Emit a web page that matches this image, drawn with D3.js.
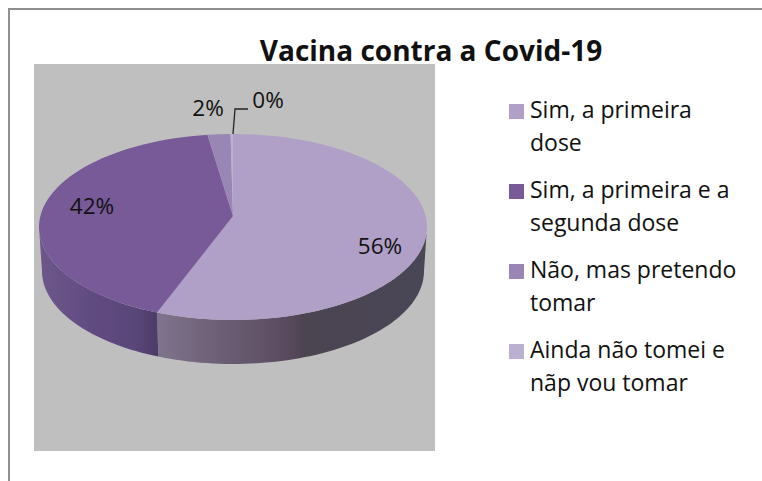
<!DOCTYPE html>
<html>
<head>
<meta charset="utf-8">
<script src="https://cdn.jsdelivr.net/npm/d3@7"></script>
<style>
  html, body { margin: 0; padding: 0; background: #fff; }
  svg { display: block; }
  text { font-family: "Open Sans", "Noto Sans", sans-serif; fill: #111; }
</style>
</head>
<body>
<div id="chart"></div>
<script>
const title = 'Vacina contra a Covid-19';
// valores (rótulos arredondados: 56, 42, 2, 0)
const values = [56.4, 41.5, 1.9, 0.2];
const colors = ['#b09fc6', '#785a98', '#9a86b5', '#bcb0d0'];
const legendLines = [
    ['Sim, a primeira', 'dose'],
    ['Sim, a primeira e a', 'segunda dose'],
    ['Não, mas pretendo', 'tomar'],
    ['Ainda não tomei e', 'nãp vou tomar']
];

const width = 762, height = 481;
const plot = { x: 34, y: 64, w: 401, h: 387 };
const top3d = { cx: 233, cy: 227, rx: 194, ry: 93, apexY: 216 };
const bottom3d = { cx: 233, cy: 271, rx: 191, ry: 93 };

const svg = d3.select('#chart').append('svg')
    .attr('width', width)
    .attr('height', height);

// moldura: só topo e esquerda
svg.append('path')
    .attr('d', `M9,${height}V9H${width}`)
    .attr('fill', 'none')
    .attr('stroke', '#8f8f8f')
    .attr('stroke-width', 2);

svg.append('rect')
    .attr('x', plot.x).attr('y', plot.y)
    .attr('width', plot.w).attr('height', plot.h)
    .attr('fill', '#bfbfbf');

svg.append('text')
    .attr('x', 431)
    .attr('y', 61)
    .attr('text-anchor', 'middle')
    .style('font-size', '28px')
    .style('font-weight', 'bold')
    .text(title);

const defs = svg.append('defs');
function addGradient(id, stops) {
    const g = defs.append('linearGradient')
        .attr('id', id)
        .attr('gradientUnits', 'userSpaceOnUse')
        .attr('x1', 0).attr('x2', width).attr('y1', 0).attr('y2', 0);
    stops.forEach(s => g.append('stop')
        .attr('offset', s[0] / width)
        .attr('stop-color', s[1]));
}
addGradient('wall0', [[155, '#80758f'], [205, '#70637a'], [285, '#5b4b60'], [305, '#4b4451'], [425, '#4a4656']]);
addGradient('wall1', [[40, '#6d5689'], [100, '#5f4a80'], [140, '#594577'], [155, '#4d3d68']]);

// imagem original é levemente desfocada
defs.append('filter').attr('id', 'soft')
    .append('feGaussianBlur').attr('stdDeviation', 0.6);

const pie = d3.pie().sort(null).value(d => d);
const arcs = pie(values);

const pointOn = (e, a) => [e.cx + e.rx * Math.sin(a), e.cy - e.ry * Math.cos(a)];
const sample = (a0, a1) => d3.range(0, 61).map(i => a0 + (a1 - a0) * i / 60);
const line = d3.line();

const pieGroup = svg.append('g').attr('filter', 'url(#soft)');

// parede lateral (só a metade da frente é visível)
const frontStart = Math.PI / 2, frontEnd = Math.PI * 1.5;
arcs.forEach((d, i) => {
    const a0 = Math.max(d.startAngle, frontStart);
    const a1 = Math.min(d.endAngle, frontEnd);
    if (a1 <= a0) return;
    const angles = sample(a0, a1);
    const pts = angles.map(a => pointOn(top3d, a))
        .concat(angles.slice().reverse().map(a => pointOn(bottom3d, a)));
    pieGroup.append('path')
        .attr('d', line(pts) + 'Z')
        .attr('fill', `url(#wall${i})`);
});

// fatias do topo
pieGroup.append('g').selectAll('path')
    .data(arcs)
    .enter()
    .append('path')
    .attr('d', d => line([[top3d.cx, top3d.apexY]]
        .concat(sample(d.startAngle, d.endAngle).map(a => pointOn(top3d, a)))) + 'Z')
    .attr('fill', (d, i) => colors[i]);

// linha de chamada do 0%
svg.append('path')
    .attr('d', 'M233,134L235,109H248')
    .attr('fill', 'none')
    .attr('stroke', '#222')
    .attr('stroke-width', 1.3);

const labelPos = [[380, 254], [92, 214], [208, 116], [268, 108]];
svg.append('g').selectAll('text')
    .data(values)
    .enter()
    .append('text')
    .attr('x', (d, i) => labelPos[i][0])
    .attr('y', (d, i) => labelPos[i][1])
    .attr('text-anchor', 'middle')
    .style('font-size', '22.5px')
    .text(d => Math.round(d) + '%');

// legenda
const legendY = d3.scaleLinear().domain([0, 1]).range([104, 184]);
const legend = svg.append('g').selectAll('g')
    .data(legendLines)
    .enter()
    .append('g')
    .attr('transform', (d, i) => `translate(509,${legendY(i)})`);

legend.append('rect')
    .attr('width', 15).attr('height', 15)
    .attr('fill', (d, i) => colors[i]);

legend.selectAll('text')
    .data(d => d)
    .enter()
    .append('text')
    .attr('x', 21)
    .attr('y', (d, i) => 14 + i * 33)
    .style('font-size', '23px')
    .text(d => d);
</script>
</body>
</html>
